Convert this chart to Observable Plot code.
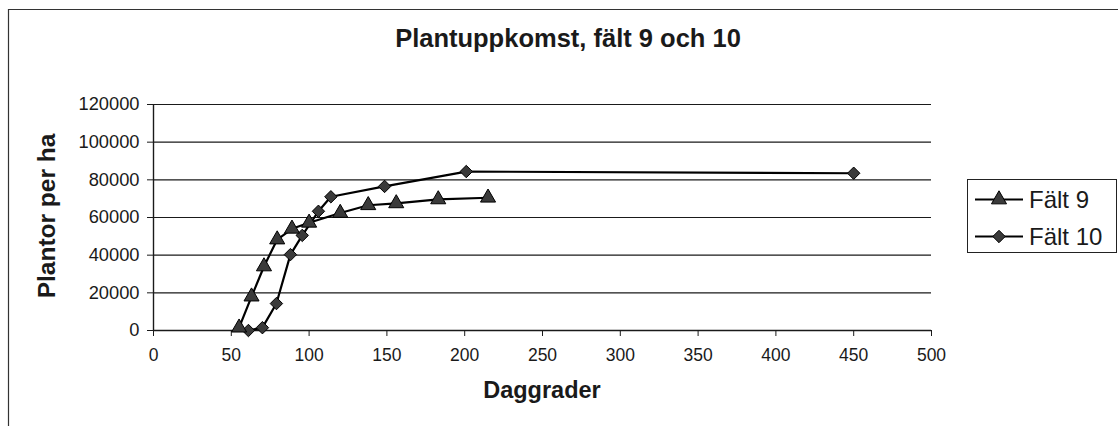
<!DOCTYPE html>
<html>
<head>
<meta charset="utf-8">
<script src="https://cdn.jsdelivr.net/npm/d3@7"></script>
<script src="https://cdn.jsdelivr.net/npm/@observablehq/plot@0.6"></script>
<style>
  html, body { margin: 0; padding: 0; background: #fff; }
  #wrap { position: relative; width: 1118px; height: 426px; overflow: hidden; font-family: "Liberation Sans", Arial, sans-serif; }
  #overlay { position: absolute; left: 0; top: 0; pointer-events: none; }
</style>
</head>
<body>
<div id="wrap"></div>
<script>
// ---- data ----
const titleText = "Plantuppkomst, fält 9 och 10";
const xLabel = "Daggrader";
const yLabel = "Plantor per ha";
const seriesNames = ["Fält 9", "Fält 10"];

const falt9X = [55, 63, 71, 79.5, 89, 100, 120, 138, 156, 183, 215];
const falt9Y = [1500, 18000, 34000, 48300, 54000, 57200, 62400, 66500, 67500, 69600, 70500];

const falt10X = [61, 70, 79, 88, 95.6, 106, 114, 148.5, 201, 450];
const falt10Y = [0, 1500, 14300, 40300, 50500, 63300, 71000, 76500, 84400, 83500];

const xTicks = [0, 50, 100, 150, 200, 250, 300, 350, 400, 450, 500];
const yTicks = [0, 20000, 40000, 60000, 80000, 100000, 120000];

// ---- build rows ----
const rows9 = falt9X.map((x, i) => ({x, y: falt9Y[i], s: seriesNames[0]}));
const rows10 = falt10X.map((x, i) => ({x, y: falt10Y[i], s: seriesNames[1]}));

const W = 1118, H = 426;
const ink = "#1a1a1a";

const chart = Plot.plot({
  width: W,
  height: H,
  marginLeft: 153,
  marginRight: 187,
  marginTop: 104,
  marginBottom: 96,
  style: { fontFamily: "'Liberation Sans', Arial, sans-serif", color: ink, background: "transparent" },
  x: { domain: [0, 500] },
  y: { domain: [0, 120000] },
  marks: [
    Plot.ruleY(yTicks.filter(d => d > 0), { stroke: ink, strokeWidth: 1.2 }),
    Plot.ruleY([0], { stroke: ink, strokeWidth: 1.4 }),
    Plot.ruleX([0], { stroke: ink, strokeWidth: 1.4 }),
    Plot.axisX({ ticks: xTicks, tickSize: 6, tickPadding: 12, fontSize: 17.5, label: null, tickFormat: d3.format("d"), stroke: ink }),
    Plot.axisY({ ticks: yTicks, tickSize: 6, tickPadding: 8, fontSize: 18.3, label: null, tickFormat: d3.format("d"), stroke: ink }),
    Plot.line(rows10, { x: "x", y: "y", stroke: "#000", strokeWidth: 2.2 }),
    Plot.line(rows9, { x: "x", y: "y", stroke: "#000", strokeWidth: 2.2 }),
    Plot.dot(rows10, { x: "x", y: "y", symbol: "diamond2", r: 5.6, fill: "#3a3a3a", stroke: "#000", strokeWidth: 1 }),
    Plot.dot(rows9, { x: "x", y: "y", symbol: "triangle", r: 5.6, fill: "#3a3a3a", stroke: "#000", strokeWidth: 1 })
  ]
});

const wrap = document.getElementById("wrap");
wrap.appendChild(chart);

// ---- overlay: title, axis labels, legend, frame ----
const NS = "http://www.w3.org/2000/svg";
const ov = document.createElementNS(NS, "svg");
ov.setAttribute("id", "overlay");
ov.setAttribute("width", W);
ov.setAttribute("height", H);
ov.setAttribute("font-family", "'Liberation Sans', Arial, sans-serif");
function el(tag, attrs, text) {
  const e = document.createElementNS(NS, tag);
  for (const k in attrs) e.setAttribute(k, attrs[k]);
  if (text != null) e.textContent = text;
  ov.appendChild(e);
  return e;
}
// frame
el("path", { d: "M8.5,426 L8.5,9.5 L1118,9.5", fill: "none", stroke: "#333", "stroke-width": 1.2 });
// title
el("text", { x: 568, y: 46.5, "text-anchor": "middle", "font-size": 25.5, "font-weight": "bold", fill: ink }, titleText);
// x label
el("text", { x: 542, y: 398, "text-anchor": "middle", "font-size": 23.5, "font-weight": "bold", fill: ink }, xLabel);
// y label
el("text", { transform: "translate(55,216) rotate(-90)", "text-anchor": "middle", "font-size": 24.5, "font-weight": "bold", fill: ink }, yLabel);
// legend
el("rect", { x: 967.5, y: 179.5, width: 149, height: 73, fill: "#fff", stroke: "#222", "stroke-width": 1 });
const legendRows = [{ y: 199.5, sym: "triangle" }, { y: 236.5, sym: "diamond" }];
legendRows.forEach((r, i) => {
  el("line", { x1: 975, x2: 1023, y1: r.y, y2: r.y, stroke: "#000", "stroke-width": 2.2 });
  const sym = r.sym === "triangle" ? d3.symbol(d3.symbolTriangle, Math.PI * 5.6 * 5.6)() : d3.symbol(d3.symbolDiamond2, Math.PI * 5.6 * 5.6)();
  el("path", { d: sym, transform: `translate(999,${r.y})`, fill: "#3a3a3a", stroke: "#000", "stroke-width": 1 });
  el("text", { x: 1029, y: r.y + 8.5, "font-size": 24, fill: ink }, seriesNames[i]);
});
wrap.appendChild(ov);
</script>
</body>
</html>
